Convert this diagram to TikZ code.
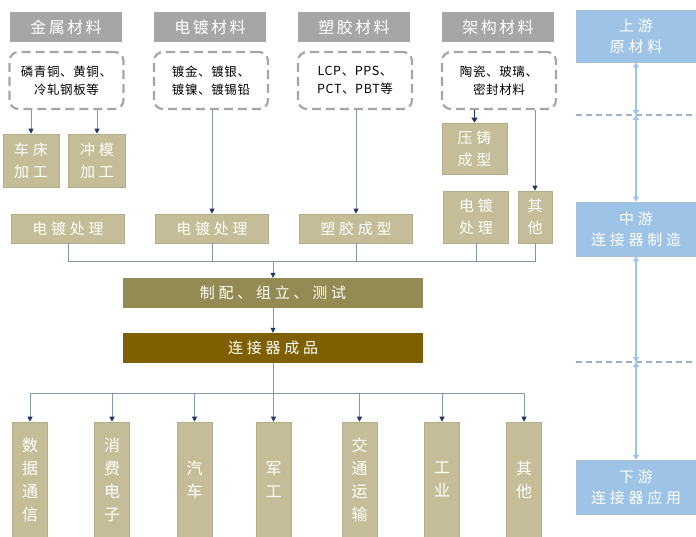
\documentclass[tikz,border=0pt]{standalone}
\usepackage{fontspec}
\setmainfont{Noto Sans CJK SC}
\newfontfamily\cjk{Noto Sans CJK SC}
\newfontfamily\cjkA[LetterSpace=15]{Noto Sans CJK SC}
\newfontfamily\cjkB[LetterSpace=25]{Noto Sans CJK SC}
\newfontfamily\cjkC[LetterSpace=5]{Noto Sans CJK SC}
\usetikzlibrary{arrows.meta}
\definecolor{hdr}{HTML}{A6A6A6}
\definecolor{tanc}{HTML}{C4BD97}
\definecolor{tanedge}{HTML}{B3AC88}
\definecolor{olivec}{HTML}{948A54}
\definecolor{dkgold}{HTML}{7F6000}
\definecolor{lblue}{HTML}{9DC3E6}
\definecolor{blueedge}{HTML}{A9BFD3}
\definecolor{navyc}{HTML}{1F3864}
\definecolor{wire}{HTML}{8497B0}
\definecolor{sepc}{HTML}{9DB1C6}
\begin{document}
\begin{tikzpicture}[x=1pt,y=-1pt,
  hdrbox/.style={fill=hdr, text=white, minimum width=112pt, minimum height=30pt, inner sep=0pt, font=\cjkA\fontsize{16}{18}\selectfont},
  matbox/.style={draw=hdr, line width=2.2pt, dash pattern=on 9pt off 5pt, rounded corners=9pt, minimum width=114pt, minimum height=57pt, align=center, inner sep=0pt, font=\cjkC\fontsize{12.5}{18}\selectfont},
  tanbox/.style={fill=tanc, draw=tanedge, line width=0.6pt, text=white, align=center, inner sep=0pt, font=\cjkB\fontsize{15}{22}\selectfont},
  vbox/.style={tanbox, minimum width=35pt, minimum height=115pt, font=\cjk\fontsize{16}{23}\selectfont},
  widebox/.style={text=white, minimum width=300pt, minimum height=30pt, inner sep=0pt, font=\cjkB\fontsize{15}{18}\selectfont},
  bluebox/.style={fill=lblue, draw=blueedge, line width=0.6pt, text=white, align=center, minimum width=120pt, inner sep=0pt, font=\cjkB\fontsize{15}{21}\selectfont},
  conn/.style={draw=wire, line width=0.8pt},
  arr/.style={conn, -{Triangle[color=navyc, length=5pt, width=5pt]}},
  arrthick/.style={draw=navyc, line width=1.6pt, -{Triangle[color=navyc, length=5pt, width=6pt]}},
  dbl/.style={draw=lblue, line width=1.8pt, {Triangle[length=5pt, width=6pt]}-{Triangle[length=5pt, width=6pt]}},
  sep/.style={draw=sepc, line width=1.4pt, dash pattern=on 6pt off 4pt}
]
\path[use as bounding box] (0,0) rectangle (696,537);

% headers
\node[hdrbox] (h1) at (66,27) {金属材料};
\node[hdrbox] (h2) at (210,27) {电镀材料};
\node[hdrbox] (h3) at (354,27) {塑胶材料};
\node[hdrbox] (h4) at (498,27) {架构材料};

% materials
\node[matbox] (m1) at (66.5,80.5) {磷青铜、黄铜、\\冷轧钢板等};
\node[matbox] (m2) at (211,80.5) {镀金、镀银、\\镀镍、镀锡铅};
\node[matbox] (m3) at (355,80.5) {LCP、PPS、\\PCT、PBT等};
\node[matbox] (m4) at (499,80.5) {陶瓷、玻璃、\\密封材料};

% processing
\node[tanbox, minimum width=56pt, minimum height=53pt] (c1) at (31,160.5) {车床\\加工};
\node[tanbox, minimum width=57pt, minimum height=53pt] (c2) at (97,160.5) {冲模\\加工};
\node[tanbox, minimum width=65pt, minimum height=51pt] (p) at (474.5,148.5) {压铸\\成型};
\node[tanbox, minimum width=113pt, minimum height=29pt] (t1) at (68,228.5) {电镀处理};
\node[tanbox, minimum width=113pt, minimum height=29pt] (t2) at (212,228.5) {电镀处理};
\node[tanbox, minimum width=113pt, minimum height=29pt] (t3) at (356,228.5) {塑胶成型};
\node[tanbox, minimum width=65pt, minimum height=52pt] (t4) at (476,217) {电镀\\处理};
\node[tanbox, minimum width=34pt, minimum height=52pt, font=\cjk\fontsize{15}{22}\selectfont] (t5) at (535,217) {其\\他};

% assembly
\node[widebox, fill=olivec] (asm) at (273,293) {制配、组立、测试};
\node[widebox, fill=dkgold] (fin) at (273,348) {连接器成品};

% applications
\node[vbox] (a1) at (30,479.5) {数\\据\\通\\信};
\node[vbox] (a2) at (112,479.5) {消\\费\\电\\子};
\node[vbox] (a3) at (194.5,479.5) {汽\\车};
\node[vbox] (a4) at (273.5,479.5) {军\\工};
\node[vbox] (a5) at (359.5,479.5) {交\\通\\运\\输};
\node[vbox] (a6) at (442,479.5) {工\\业};
\node[vbox] (a7) at (524,479.5) {其\\他};

% right column
\node[bluebox, minimum height=52pt] (up) at (636,36) {上游\\原材料};
\node[bluebox, minimum height=54pt] (mid) at (636,229) {中游\\连接器制造};
\node[bluebox, minimum height=54pt] (down) at (636,487) {下游\\连接器应用};
\coordinate (s1) at (636,115);
\coordinate (s2) at (636,362);
\coordinate (s1L) at (576,115);
\coordinate (s1R) at (696,115);
\coordinate (s2L) at (576,362);
\coordinate (s2R) at (696,362);
\draw[sep] (s1L) -- (s1R);
\draw[sep] (s2L) -- (s2R);
\draw[dbl] (up.south) -- (s1);
\draw[dbl] (s1) -- (mid.north);
\draw[dbl] (mid.south) -- (s2);
\draw[dbl] (s2) -- (down.north);

% connectors top
\draw[arr] (c1.north |- m1.south) -- (c1.north);
\draw[arr] (c2.north |- m1.south) -- (c2.north);
\draw[arr] (t2.north |- m2.south) -- (t2.north);
\draw[arr] (t3.north |- m3.south) -- (t3.north);
\draw[arrthick] (p.north |- m4.south) -- (p.north);
\draw[arr] (t5.north |- m4.south) -- (t5.north);

% bus to assembly
\coordinate (bus1) at (0,261);
\coordinate (bus2) at (0,393);
\draw[conn] (t1.south) |- (t5.south |- bus1) -- (t5.south);
\foreach \n in {t2,t3,t4} \draw[conn] (\n.south) -- (\n.south |- bus1);
\draw[arr] (asm.north |- bus1) -- (asm.north);
\draw[arr] (asm.south) -- (fin.north);
\draw[conn] (fin.south) -- (fin.south |- bus2);
\draw[conn] (a1.north |- bus2) -- (a7.north |- bus2);
\foreach \n in {a1,a2,a3,a4,a5,a6,a7} \draw[arr] (\n.north |- bus2) -- (\n.north);
\end{tikzpicture}
\end{document}
